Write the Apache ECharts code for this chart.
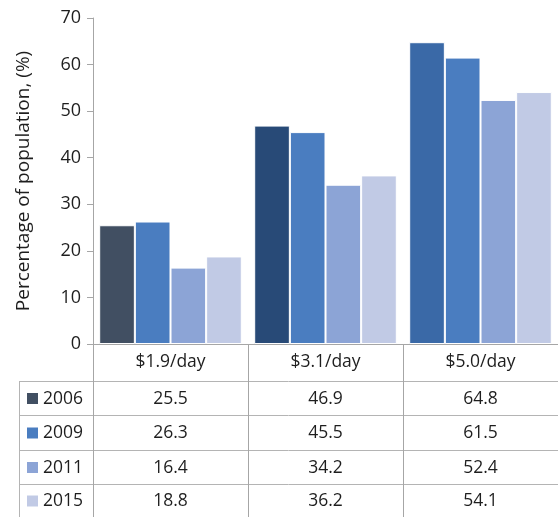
<!DOCTYPE html>
<html>
<head>
<meta charset="utf-8">
<script src="https://cdn.jsdelivr.net/npm/echarts@6/dist/echarts.min.js"></script>
<style>
  html, body { margin: 0; padding: 0; background: #fff; }
  #chart { width: 558px; height: 517px; }
</style>
</head>
<body>
<div id="chart"></div>
<script>
const categories = ['$1.9/day', '$3.1/day', '$5.0/day'];
const years = ['2006', '2009', '2011', '2015'];
const values2006 = [25.5, 46.9, 64.8];
const values2009 = [26.3, 45.5, 61.5];
const values2011 = [16.4, 34.2, 52.4];
const values2015 = [18.8, 36.2, 54.1];
const yTicks = [0, 10, 20, 30, 40, 50, 60, 70];

// 2006 bars are shaded differently in each group
const colors2006 = ['#414f62', '#284a77', '#3a69a7'];
const seriesColors = ['#414f62', '#4a7dc0', '#8ca4d6', '#c1cae5'];
const seriesValues = [values2006, values2009, values2011, values2015];

const FONT = '"Open Sans", "Noto Sans", sans-serif';
const TEXT = '#1e1e1e';
const LINE = '#a6a6a6';

const chart = echarts.init(document.getElementById('chart'));

const series = seriesValues.map((vals, i) => ({
  name: years[i],
  type: 'bar',
  barGap: '0%',
  barCategoryGap: '8%',
  itemStyle: { color: seriesColors[i], borderColor: '#fff', borderWidth: 1 },
  data: vals.map((v, j) => i === 0 ? { value: v, itemStyle: { color: colors2006[j] } } : v)
}));

chart.setOption({
  animation: false,
  grid: { left: 93, right: 0, top: 18, bottom: 173 },
  xAxis: {
    type: 'category',
    data: categories,
    axisLine: { lineStyle: { color: LINE, width: 1 } },
    axisTick: { show: true, length: 173, lineStyle: { color: LINE } },
    axisLabel: { fontFamily: FONT, fontSize: 17.5, color: TEXT, margin: 9 }
  },
  yAxis: {
    type: 'value',
    min: yTicks[0],
    max: yTicks[yTicks.length - 1],
    interval: 10,
    name: 'Percentage of population, (%)',
    nameLocation: 'middle',
    nameGap: 60,
    nameTextStyle: { fontFamily: FONT, fontSize: 19, color: TEXT },
    axisLine: { show: true, lineStyle: { color: LINE } },
    axisTick: { show: true, length: 6, lineStyle: { color: LINE } },
    splitLine: { show: false },
    axisLabel: { fontFamily: FONT, fontSize: 18, color: TEXT, margin: 12 }
  },
  series: series
});

// data table under the plot, laid out on the category axis columns
function drawTable() {
  const rowTops = [381, 415, 450, 484, 517];
  const tableLeft = 19;
  const right = 558;
  const els = [];
  rowTops.slice(0, 4).forEach(y => {
    els.push({ type: 'line', shape: { x1: tableLeft, y1: y + 0.5, x2: right, y2: y + 0.5 },
      style: { stroke: '#b4b4b4', lineWidth: 1 }, silent: true });
  });
  els.push({ type: 'line', shape: { x1: tableLeft + 0.5, y1: rowTops[0], x2: tableLeft + 0.5, y2: 517 },
    style: { stroke: '#b4b4b4', lineWidth: 1 }, silent: true });
  years.forEach((yr, i) => {
    const cy = (rowTops[i] + rowTops[i + 1]) / 2 + 1;
    els.push({ type: 'rect', shape: { x: 27, y: cy - 6, width: 11, height: 11 },
      style: { fill: seriesColors[i] }, silent: true });
    els.push({ type: 'text', x: 43, y: cy, style: { text: yr, font: '17.5px ' + FONT, fill: TEXT,
      textAlign: 'left', textVerticalAlign: 'middle' }, silent: true });
    categories.forEach((c, j) => {
      const cx = chart.convertToPixel({ xAxisIndex: 0 }, c);
      els.push({ type: 'text', x: cx, y: cy, style: { text: seriesValues[i][j].toFixed(1),
        font: '17.5px ' + FONT, fill: TEXT, textAlign: 'center', textVerticalAlign: 'middle' }, silent: true });
    });
  });
  chart.setOption({ graphic: els });
}
drawTable();
</script>
</body>
</html>
